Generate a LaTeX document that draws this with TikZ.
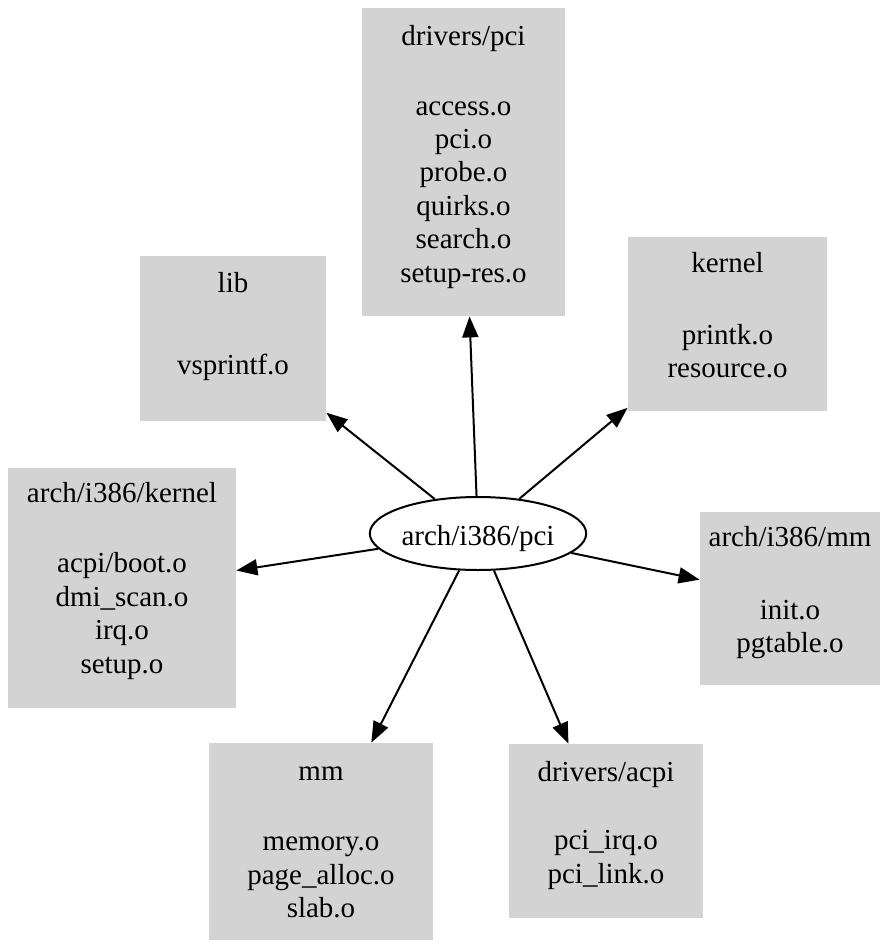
\documentclass[tikz,border=0pt]{standalone}
\usepackage{fontspec}
\setmainfont{Liberation Serif}
\usetikzlibrary{arrows.meta,shapes.geometric}
\definecolor{boxgray}{HTML}{D3D3D3}
\newcommand{\toprule}{\rule{0pt}{10.5pt}}
\newcommand{\botrule}{\rule[-3.5pt]{0pt}{3.5pt}}
\begin{document}
\begin{tikzpicture}[x=0.5pt,y=-0.5pt,
  box/.style={fill=boxgray, draw=none, inner sep=0pt},
  boxtext/.style={align=center, font=\fontsize{14.5pt}{16.7pt}\selectfont, inner sep=0pt, text=black},
  arr/.style={line width=1pt, -{Triangle[length=10.5pt,width=8pt]}},
  srcnode/.style={draw, ellipse, line width=1pt, fill=white, inner sep=0pt,
    font=\fontsize{14.5pt}{16.7pt}\selectfont, text height=12pt, text depth=0.5pt}
  ]
\fill[white] (0,0) rectangle (888,947);
\useasboundingbox (0,0) rectangle (888,947);

\node[box, minimum width=101.5pt, minimum height=154pt,
  label={[boxtext,yshift=2.75pt]center:{\toprule drivers/pci\\[18.3pt]access.o\\pci.o\\probe.o\\quirks.o\\search.o\\setup-res.o\botrule}}]
  (pci) at (463.5,162) {};
\node[box, minimum width=93pt, minimum height=82.5pt,
  label={[boxtext,yshift=6pt]center:{\toprule lib\\[24.3pt]vsprintf.o\botrule}}]
  (lib) at (233,338.5) {};
\node[box, minimum width=99.5pt, minimum height=87pt,
  label={[boxtext,yshift=3pt]center:{\toprule kernel\\[19.3pt]printk.o\\resource.o\botrule}}]
  (kern) at (727.5,324) {};
\node[box, minimum width=114pt, minimum height=120pt,
  label={[boxtext,yshift=3.5pt]center:{\toprule arch/i386/kernel\\[18.3pt]acpi/boot.o\\dmi\_scan.o\\irq.o\\setup.o\botrule}}]
  (akern) at (122,588) {};
\node[box, minimum width=90pt, minimum height=86.5pt,
  label={[boxtext,yshift=3pt]center:{\toprule arch/i386/mm\\[19.8pt]init.o\\pgtable.o\botrule}}]
  (amm) at (790,598.5) {};
\node[box, minimum width=112pt, minimum height=98.5pt,
  label={[boxtext,yshift=-0.25pt]center:{\toprule mm\\[18.3pt]memory.o\\page\_alloc.o\\slab.o\botrule}}]
  (mm) at (321,841.5) {};
\node[box, minimum width=97pt, minimum height=87pt,
  label={[boxtext,yshift=2.75pt]center:{\toprule drivers/acpi\\[17.3pt]pci\_irq.o\\pci\_link.o\botrule}}]
  (acpi) at (606,831) {};

\node[srcnode, minimum width=105pt, minimum height=36.5pt] (src) at (478,533.5) {arch/i386/pci};

\draw[arr] (src) -- (pci);
\draw[arr] (src) -- (lib);
\draw[arr] (src) -- (kern);
\draw[arr] (src) -- (akern);
\draw[arr] (src) -- (amm);
\draw[arr] (src) -- (mm);
\draw[arr] (src) -- (acpi);
\end{tikzpicture}
\end{document}
